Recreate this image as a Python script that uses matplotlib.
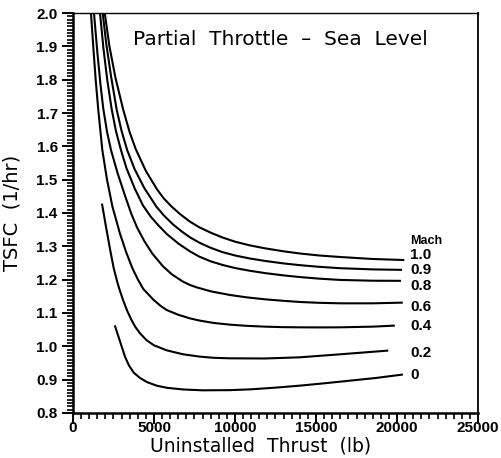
import matplotlib
matplotlib.use("Agg")
import matplotlib.pyplot as plt
from matplotlib.ticker import MultipleLocator, FormatStrFormatter

# TSFC curves: uninstalled thrust (lb) and TSFC (1/hr)
m10_thrust = [1960, 2250, 2620, 3105, 3500, 3870, 4500, 5200, 5600, 6070, 6600, 7222,
              7800, 8500, 9200, 10000, 10900, 11850, 13000, 14000, 15200, 16480, 18500, 20390]
m10_tsfc = [2.00, 1.90, 1.806, 1.709, 1.642, 1.592, 1.526, 1.47, 1.444, 1.42, 1.397, 1.374,
            1.357, 1.341, 1.327, 1.314, 1.303, 1.294, 1.285, 1.2785, 1.2725, 1.268, 1.262, 1.259]

m09_thrust = [1833, 2050, 2350, 2700, 3000, 3350, 3800, 4400, 5140, 5600, 6190, 6700, 7222,
              7800, 8500, 9200, 10000, 10900, 11850, 13000, 14000, 15200, 16480, 18500, 20250]
m09_tsfc = [2.00, 1.909, 1.81, 1.709, 1.646, 1.588, 1.532, 1.475, 1.4195, 1.393, 1.365, 1.345,
            1.327, 1.311, 1.2955, 1.283, 1.2726, 1.2636, 1.2562, 1.2487, 1.2435, 1.2385,
            1.2344, 1.2308, 1.2294]

m08_thrust = [1667, 1880, 2120, 2390, 2650, 2960, 3300, 3800, 4320, 4800, 5270, 5800, 6500,
              7222, 7800, 8500, 9200, 10000, 10900, 11850, 13000, 14000, 15200, 16480, 18500, 20180]
m08_tsfc = [2.00, 1.8935, 1.7975, 1.711, 1.646, 1.589, 1.5346, 1.4746, 1.4226, 1.389, 1.363,
            1.3365, 1.3085, 1.2847, 1.269, 1.255, 1.2445, 1.2349, 1.2268, 1.2197, 1.2128,
            1.2078, 1.203, 1.1992, 1.1968, 1.1965]

m06_thrust = [1296, 1500, 1700, 1870, 2100, 2345, 2750, 3200, 3600, 3950, 4400, 4900, 5555,
              6100, 6790, 7222, 7630, 8500, 9690, 10700, 11850, 13000, 14000, 15200, 16480,
              18500, 20290]
m06_tsfc = [2.00, 1.884, 1.784, 1.713, 1.644, 1.589, 1.52, 1.4535, 1.3975, 1.357, 1.316, 1.278,
            1.240, 1.216, 1.194, 1.184, 1.177, 1.165, 1.154, 1.147, 1.141, 1.1365, 1.133,
            1.1305, 1.129, 1.129, 1.131]

m04_thrust = [1110, 1250, 1400, 1562, 1810, 2100, 2430, 2900, 3300, 3660, 4000, 4340, 4960,
              5400, 5780, 6500, 7222, 7840, 8700, 9690, 10700, 11850, 13000, 14000, 15200,
              16480, 18500, 19800]
m04_tsfc = [2.00, 1.90, 1.80, 1.709, 1.589, 1.50, 1.42, 1.338, 1.28, 1.235, 1.201, 1.172,
            1.140, 1.1216, 1.109, 1.0946, 1.0838, 1.077, 1.070, 1.065, 1.0615, 1.059, 1.0575,
            1.057, 1.0567, 1.057, 1.059, 1.062]

m02_thrust = [1800, 2050, 2300, 2510, 2750, 2900, 3105, 3350, 3600, 3850, 4136, 4550, 5000,
              5780, 6800, 7840, 8700, 9690, 11850, 14000, 16480, 19400]
m02_tsfc = [1.425, 1.355, 1.288, 1.235, 1.19, 1.166, 1.137, 1.106, 1.08, 1.058, 1.039, 1.018,
            1.003, 0.988, 0.976, 0.969, 0.9655, 0.964, 0.9635, 0.967, 0.976, 0.987]

m00_thrust = [2600, 2900, 3210, 3450, 3750, 4136, 4600, 5165, 5800, 6810, 8000, 9690, 11000,
              12500, 14000, 15500, 17100, 18700, 20300]
m00_tsfc = [1.06, 1.015, 0.969, 0.943, 0.921, 0.905, 0.892, 0.882, 0.8755, 0.8705, 0.868,
            0.8685, 0.871, 0.876, 0.882, 0.889, 0.897, 0.905, 0.915]

mach_labels = ["1.0", "0.9", "0.8", "0.6", "0.4", "0.2", "0"]
label_y = [1.274, 1.229, 1.181, 1.119, 1.061, 0.981, 0.914]

curves = [(m10_thrust, m10_tsfc), (m09_thrust, m09_tsfc), (m08_thrust, m08_tsfc),
          (m06_thrust, m06_tsfc), (m04_thrust, m04_tsfc), (m02_thrust, m02_tsfc),
          (m00_thrust, m00_tsfc)]

fig = plt.figure(figsize=(5.02, 4.58), dpi=100)
ax = fig.add_axes([0.1454, 0.0983, 0.8068, 0.8733])

for xs, ys in curves:
    ax.plot(xs, ys, color="black", lw=1.5, solid_joinstyle="round")

ax.set_xlim(0, 25000)
ax.set_ylim(0.8, 2.0)
ax.xaxis.set_major_locator(MultipleLocator(5000))
ax.xaxis.set_minor_locator(MultipleLocator(500))
ax.yaxis.set_major_locator(MultipleLocator(0.1))
ax.yaxis.set_minor_locator(MultipleLocator(0.01))
ax.yaxis.set_major_formatter(FormatStrFormatter("%.1f"))

ax.tick_params(which="major", length=8, width=1.4, direction="out")
ax.tick_params(which="minor", length=4.5, width=1.2, direction="out")
ax.tick_params(axis="x", which="major", pad=-2.5)
ax.tick_params(axis="y", which="major", pad=3)
for lab in ax.get_xticklabels() + ax.get_yticklabels():
    lab.set_family("Liberation Sans")
    lab.set_fontweight("bold")
    lab.set_fontsize(11)

ax.spines["left"].set_linewidth(1.8)
ax.spines["bottom"].set_linewidth(1.8)
ax.spines["top"].set_linewidth(1.0)
ax.spines["right"].set_linewidth(1.3)

ax.set_xlabel("Uninstalled  Thrust  (lb)", fontsize=13.5)
ax.xaxis.label.set_va("baseline")
ax.xaxis.set_label_coords(0.462, -0.0975)
ax.set_ylabel("TSFC  (1/hr)", fontsize=14)
ax.yaxis.set_label_coords(-0.127, 0.5)

ax.text(0.511, 0.935, "Partial  Throttle  \u2013  Sea  Level", transform=ax.transAxes,
        ha="center", va="center", fontsize=14.5)

ax.text(20800, 1.316, "Mach", fontsize=9, fontweight="bold", family="Liberation Sans",
        ha="left", va="center")
for lab, y in zip(mach_labels, label_y):
    ax.text(20800, y, lab, fontsize=11, fontweight="bold", family="Liberation Sans",
            ha="left", va="center")

fig.savefig("out.png", dpi=100)
